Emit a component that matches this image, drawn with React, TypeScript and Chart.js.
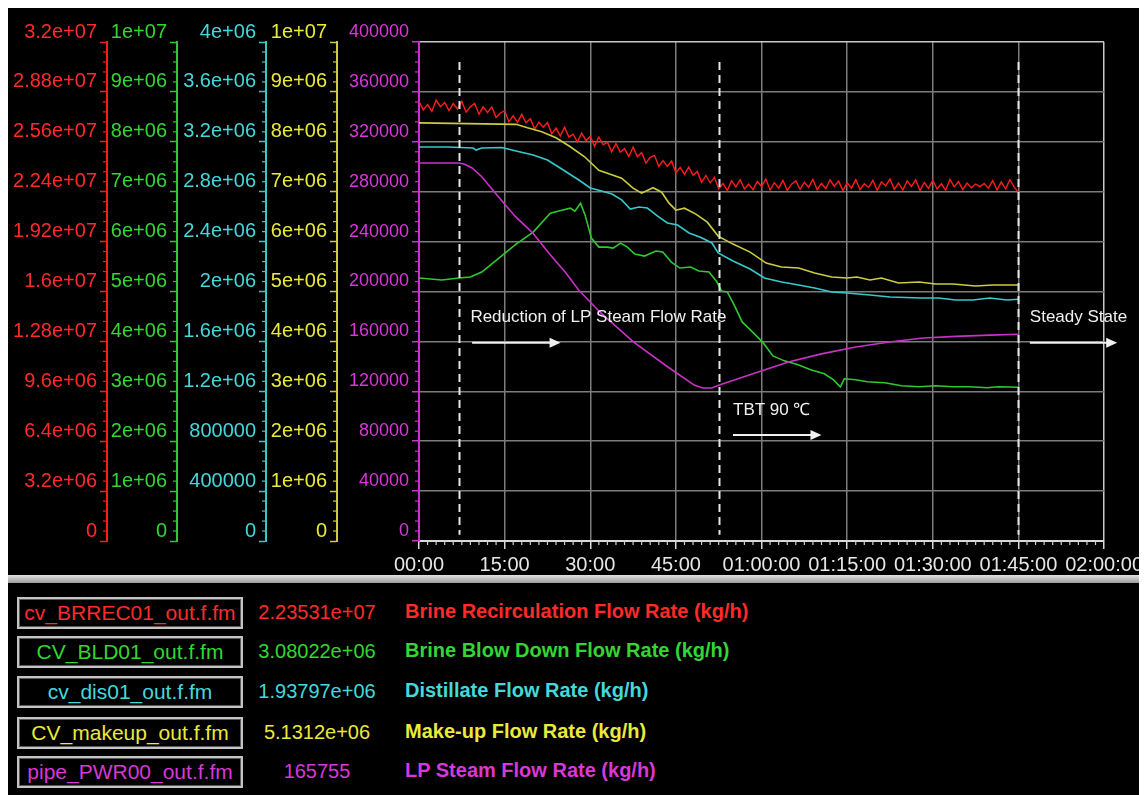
import React, { useEffect, useRef } from "react";
import { Chart, registerables } from "chart.js";

Chart.register(...registerables);

// ---------- axis tick labels ----------
const xTickValues = [0, 15, 30, 45, 60, 75, 90, 105, 120];
const xTickLabels = ["00:00", "15:00", "30:00", "45:00", "01:00:00", "01:15:00", "01:30:00", "01:45:00", "02:00:00"];

const redMax = 3.2e7;
const greenMax = 1e7;
const cyanMax = 4e6;
const yellowMax = 1e7;
const magentaMax = 400000;

const redTickLabels = ["0", "3.2e+06", "6.4e+06", "9.6e+06", "1.28e+07", "1.6e+07", "1.92e+07", "2.24e+07", "2.56e+07", "2.88e+07", "3.2e+07"];
const greenTickLabels = ["0", "1e+06", "2e+06", "3e+06", "4e+06", "5e+06", "6e+06", "7e+06", "8e+06", "9e+06", "1e+07"];
const cyanTickLabels = ["0", "400000", "800000", "1.2e+06", "1.6e+06", "2e+06", "2.4e+06", "2.8e+06", "3.2e+06", "3.6e+06", "4e+06"];
const yellowTickLabels = ["0", "1e+06", "2e+06", "3e+06", "4e+06", "5e+06", "6e+06", "7e+06", "8e+06", "9e+06", "1e+07"];
const magentaTickLabels = ["0", "40000", "80000", "120000", "160000", "200000", "240000", "280000", "320000", "360000", "400000"];

// ---------- series (time in minutes) ----------
const redTimes = [
  0, 0.75, 1.5, 2.25, 3, 3.75, 4.5, 5.25, 6, 6.75,
  7.5, 8.25, 9, 9.75, 10.5, 11.25, 12, 12.75, 13.5, 14.25,
  15, 15.75, 16.5, 17.25, 18, 18.75, 19.5, 20.25, 21, 21.75,
  22.5, 23.25, 24, 24.75, 25.5, 26.25, 27, 27.75, 28.5, 29.25,
  30, 30.75, 31.5, 32.25, 33, 33.75, 34.5, 35.25, 36, 36.75,
  37.5, 38.25, 39, 39.75, 40.5, 41.25, 42, 42.75, 43.5, 44.25,
  45, 45.75, 46.5, 47.25, 48, 48.75, 49.5, 50.25, 51, 51.75,
  52.5, 53.25, 54, 54.75, 55.5, 56.25, 57, 57.75, 58.5, 59.25,
  60, 60.75, 61.5, 62.25, 63, 63.75, 64.5, 65.25, 66, 66.75,
  67.5, 68.25, 69, 69.75, 70.5, 71.25, 72, 72.75, 73.5, 74.25,
  75, 75.75, 76.5, 77.25, 78, 78.75, 79.5, 80.25, 81, 81.75,
  82.5, 83.25, 84, 84.75, 85.5, 86.25, 87, 87.75, 88.5, 89.25,
  90, 90.75, 91.5, 92.25, 93, 93.75, 94.5, 95.25, 96, 96.75,
  97.5, 98.25, 99, 99.75, 100.5, 101.25, 102, 102.75, 103.5, 104.25,
  105,
];
const redValues = [
  28.20e6, 27.65e6, 28.00e6, 27.55e6, 28.28e6, 27.85e6, 28.12e6, 27.60e6, 28.05e6, 27.70e6,
  28.19e6, 27.50e6, 27.85e6, 28.06e6, 27.37e6, 27.84e6, 27.47e6, 27.84e6, 27.16e6, 27.45e6,
  27.59e6, 26.88e6, 27.27e6, 26.85e6, 27.36e6, 26.82e6, 27.08e6, 26.42e6, 26.86e6, 26.53e6,
  26.83e6, 26.11e6, 26.48e6, 25.98e6, 26.54e6, 25.90e6, 26.09e6, 25.58e6, 26.16e6, 25.67e6,
  25.96e6, 25.32e6, 25.91e6, 25.41e6, 25.58e6, 24.96e6, 25.49e6, 24.93e6, 25.16e6, 24.66e6,
  25.26e6, 24.64e6, 24.91e6, 24.24e6, 24.60e6, 24.73e6, 24.03e6, 24.39e6, 24.02e6, 24.37e6,
  23.62e6, 23.96e6, 23.51e6, 23.99e6, 23.46e6, 23.70e6, 23.00e6, 23.44e6, 22.97e6, 23.32e6,
  22.59e6, 22.93e6, 22.47e6, 23.11e6, 22.71e6, 23.17e6, 22.57e6, 22.89e6, 22.53e6, 23.05e6,
  22.73e6, 23.21e6, 22.51e6, 22.98e6, 22.63e6, 23.13e6, 22.48e6, 22.88e6, 23.09e6, 22.55e6,
  23.01e6, 22.69e6, 23.19e6, 22.53e6, 22.93e6, 22.59e6, 23.15e6, 22.75e6, 23.08e6, 22.47e6,
  22.97e6, 22.63e6, 23.17e6, 22.53e6, 22.91e6, 22.67e6, 23.13e6, 22.49e6, 23.03e6, 22.77e6,
  23.21e6, 22.55e6, 22.95e6, 22.51e6, 23.09e6, 22.73e6, 23.17e6, 22.47e6, 22.99e6, 22.61e6,
  23.13e6, 22.57e6, 22.91e6, 22.49e6, 23.19e6, 22.71e6, 23.05e6, 22.53e6, 22.95e6, 22.65e6,
  22.89e6, 22.73e6, 22.93e6, 22.63e6, 23.11e6, 22.51e6, 23.03e6, 22.57e6, 23.17e6, 22.69e6,
  22.3531e6,
];

const greenTimes = [0, 4, 7, 9, 11, 14, 17, 20, 23, 25, 26.5, 27.3, 28.3, 29.1, 30.2, 31.5, 33, 34, 35.3, 36.5, 37.8, 39.5, 41.5, 42.7, 44.2, 45.7, 47.6, 49, 50.8, 52.2, 53, 54, 55.2, 56.6, 58.4, 60.3, 62, 64, 66.4, 68.6, 71, 72.6, 73.8, 74.5, 76.5, 78.5, 81.6, 84.5, 87.6, 90.5, 93.5, 96.5, 99.5, 101.5, 105];
const greenValues = [5.27e6, 5.23e6, 5.27e6, 5.29e6, 5.39e6, 5.67e6, 5.95e6, 6.19e6, 6.57e6, 6.63e6, 6.67e6, 6.61e6, 6.77e6, 6.53e6, 6.07e6, 5.89e6, 5.89e6, 5.87e6, 5.97e6, 5.89e6, 5.75e6, 5.71e6, 5.81e6, 5.79e6, 5.59e6, 5.47e6, 5.49e6, 5.41e6, 5.39e6, 5.19e6, 5.01e6, 4.99e6, 4.73e6, 4.39e6, 4.19e6, 3.97e6, 3.71e6, 3.61e6, 3.53e6, 3.43e6, 3.35e6, 3.23e6, 3.09e6, 3.25e6, 3.23e6, 3.19e6, 3.17e6, 3.11e6, 3.09e6, 3.11e6, 3.09e6, 3.09e6, 3.07e6, 3.09e6, 3.08022e6];

const cyanTimes = [0, 5, 9.5, 10, 11, 14.5, 17, 20, 22.5, 25, 28, 30, 32, 33.8, 35.5, 37, 38.5, 40, 41.8, 43.5, 45.3, 47.3, 49.4, 51.3, 52.4, 55, 58, 60.5, 63.5, 66.5, 69.3, 72.3, 75, 77, 79, 82.5, 88, 91, 94, 97, 100, 103, 105];
const cyanValues = [3.158e6, 3.158e6, 3.150e6, 3.134e6, 3.150e6, 3.154e6, 3.126e6, 3.094e6, 3.054e6, 2.982e6, 2.894e6, 2.830e6, 2.806e6, 2.782e6, 2.734e6, 2.661e6, 2.677e6, 2.669e6, 2.605e6, 2.549e6, 2.533e6, 2.469e6, 2.433e6, 2.389e6, 2.309e6, 2.245e6, 2.180e6, 2.108e6, 2.076e6, 2.052e6, 2.028e6, 1.996e6, 1.988e6, 1.980e6, 1.972e6, 1.956e6, 1.948e6, 1.948e6, 1.932e6, 1.932e6, 1.948e6, 1.932e6, 1.93797e6];

const yellowTimes = [0, 17, 19, 21.5, 24, 26.5, 29, 31.5, 33.5, 35.5, 37.5, 39, 41, 42.5, 43.8, 45, 46.5, 48.5, 50.5, 52.4, 55, 58, 60.8, 63.5, 66.5, 69.3, 72.3, 75, 76.7, 79, 81, 84, 87.6, 90.5, 93.5, 97.5, 100.5, 103.5, 105];
const yellowValues = [8.38e6, 8.35e6, 8.28e6, 8.20e6, 8.08e6, 7.90e6, 7.70e6, 7.43e6, 7.35e6, 7.27e6, 7.07e6, 6.97e6, 7.08e6, 6.99e6, 6.77e6, 6.63e6, 6.67e6, 6.55e6, 6.39e6, 6.11e6, 5.95e6, 5.79e6, 5.57e6, 5.49e6, 5.47e6, 5.37e6, 5.29e6, 5.27e6, 5.29e6, 5.23e6, 5.27e6, 5.17e6, 5.19e6, 5.15e6, 5.15e6, 5.11e6, 5.13e6, 5.13e6, 5.1312e6];

const magentaTimes = [0, 7, 8, 9.3, 11, 13.9, 16.9, 19.9, 22.7, 25.7, 28, 31.8, 37.6, 43.6, 48.2, 49.7, 51.3, 52.6, 58.5, 64.7, 70.5, 76.5, 82.4, 88.3, 94, 100, 105];
const magentaValues = [303000, 303000, 302000, 299000, 292000, 276000, 260000, 247000, 231000, 215000, 201000, 183000, 159500, 139500, 125000, 122600, 122600, 125000, 134000, 143500, 150000, 155500, 159500, 162700, 164000, 165000, 165755];

// ---------- legend panel ----------
const tagNames = ["cv_BRREC01_out.f.fm", "CV_BLD01_out.f.fm", "cv_dis01_out.f.fm", "CV_makeup_out.f.fm", "pipe_PWR00_out.f.fm"];
const currentValues = ["2.23531e+07", "3.08022e+06", "1.93797e+06", "5.1312e+06", "165755"];
const descriptions = [
  "Brine Recirculation Flow Rate (kg/h)",
  "Brine Blow Down Flow Rate (kg/h)",
  "Distillate Flow Rate (kg/h)",
  "Make-up Flow Rate (kg/h)",
  "LP Steam Flow Rate (kg/h)",
];

// ---------- annotations (minutes, LP-steam axis units) ----------
const phaseTimes = [7, 52.5, 105];
const noteTexts = [
  { text: "Reduction of LP Steam Flow Rate", t: 9, v: 179000 },
  { text: "TBT 90 \u2103", t: 55, v: 105000 },
  { text: "Steady State", t: 107, v: 179000 },
];
const noteArrows = [
  { t0: 9.3, t1: 24.8, v: 159000 },
  { t0: 55, t1: 70.5, v: 85000 },
  { t0: 107, t1: 122.3, v: 159000 },
];

const FONT = '"Liberation Sans", Arial, sans-serif';
const lineColors = ["#ff1c1c", "#30c830", "#38c8cc", "#cccc40", "#c832c8"];
const textColors = ["#ff2a2a", "#33d633", "#44d8dc", "#eaea3a", "#d838d8"];
const axisIds = ["yR", "yG", "yC", "yY", "yM"];

function yAxis(max: number, labels: string[], color: string, tcolor: string, width: number, weight: number, fontSize: number, onArea: boolean) {
  return {
    type: "linear",
    position: "left",
    weight,
    min: 0,
    max,
    afterBuildTicks: (s: any) => {
      s.ticks = labels.map((_, i) => ({ value: (max * i) / (labels.length - 1) }));
    },
    afterFit: (s: any) => {
      s.width = width;
    },
    border: { display: true, color, width: 2 },
    grid: {
      display: true,
      drawOnChartArea: onArea,
      drawTicks: true,
      tickLength: 7,
      tickWidth: 1.5,
      tickColor: color,
      color: onArea ? (c: any) => (c.tick && c.tick.value >= max ? "#c8c8c8" : "#7c7c7c") : color,
      lineWidth: onArea ? 1.5 : 1,
    },
    ticks: {
      autoSkip: false,
      padding: 3,
      labelOffset: -10,
      color: tcolor,
      font: { family: FONT, size: fontSize },
      callback: (_v: any, i: number) => labels[i],
    },
  };
}

const overlayPlugin = {
  id: "overlay",
  afterDraw(chart: any) {
    const ctx = chart.ctx;
    const xs = chart.scales.x;
    const yM = chart.scales.yM;
    ctx.save();
    // minor ticks on y axes
    axisIds.forEach((id, k) => {
      const s = chart.scales[id];
      ctx.strokeStyle = lineColors[k];
      ctx.lineWidth = 1.2;
      for (let i = 0; i <= 50; i++) {
        if (i % 5 === 0) continue;
        const py = s.getPixelForValue(s.min + ((s.max - s.min) * i) / 50);
        ctx.beginPath();
        ctx.moveTo(s.right - 4, py);
        ctx.lineTo(s.right, py);
        ctx.stroke();
      }
    });
    // minor ticks on x axis
    ctx.strokeStyle = "#d0d0d0";
    ctx.lineWidth = 1.2;
    for (let i = 0; i <= 80; i++) {
      if (i % 10 === 0) continue;
      const px = xs.getPixelForValue((120 * i) / 80);
      ctx.beginPath();
      ctx.moveTo(px, xs.top);
      ctx.lineTo(px, xs.top + 4);
      ctx.stroke();
    }
    // dashed phase lines
    ctx.strokeStyle = "#e6e6e6";
    ctx.lineWidth = 2;
    ctx.setLineDash([8, 5]);
    phaseTimes.forEach((t) => {
      const px = Math.round(xs.getPixelForValue(t)) + 0.5;
      ctx.beginPath();
      ctx.moveTo(px, yM.getPixelForValue(384000));
      ctx.lineTo(px, yM.getPixelForValue(5000));
      ctx.stroke();
    });
    ctx.setLineDash([]);
    // notes
    ctx.fillStyle = "#f0f0f0";
    ctx.font = `17px ${FONT}`;
    ctx.textBaseline = "middle";
    ctx.textAlign = "left";
    noteTexts.forEach((n) => {
      ctx.fillText(n.text, xs.getPixelForValue(n.t), yM.getPixelForValue(n.v));
    });
    ctx.strokeStyle = "#f0f0f0";
    ctx.lineWidth = 2;
    noteArrows.forEach((a) => {
      const x0 = xs.getPixelForValue(a.t0);
      const x1 = xs.getPixelForValue(a.t1);
      const y = yM.getPixelForValue(a.v);
      ctx.beginPath();
      ctx.moveTo(x0, y);
      ctx.lineTo(x1 - 8, y);
      ctx.stroke();
      ctx.beginPath();
      ctx.moveTo(x1, y);
      ctx.lineTo(x1 - 11, y - 5);
      ctx.lineTo(x1 - 11, y + 5);
      ctx.closePath();
      ctx.fill();
    });
    ctx.restore();
  },
};

function series(times: number[], values: number[]) {
  return times.map((t, i) => ({ x: t, y: values[i] }));
}

export default function App() {
  const ref = useRef<HTMLCanvasElement>(null);

  useEffect(() => {
    const canvas = ref.current;
    if (!canvas) return;
    const ds = (label: string, times: number[], values: number[], k: number, width: number) => ({
      label,
      data: series(times, values),
      yAxisID: axisIds[k],
      borderColor: lineColors[k],
      borderWidth: width,
      pointRadius: 0,
      tension: 0,
      fill: false,
    });
    const chart = new Chart(canvas, {
      type: "line",
      data: {
        datasets: [
          ds(descriptions[4], magentaTimes, magentaValues, 4, 1.6),
          ds(descriptions[1], greenTimes, greenValues, 1, 1.6),
          ds(descriptions[2], cyanTimes, cyanValues, 2, 1.6),
          ds(descriptions[3], yellowTimes, yellowValues, 3, 1.6),
          ds(descriptions[0], redTimes, redValues, 0, 1.4),
        ] as any,
      },
      options: {
        responsive: false,
        animation: false,
        events: [],
        layout: { padding: { top: 34, right: 41, bottom: 0, left: 0 } },
        plugins: { legend: { display: false }, tooltip: { enabled: false } },
        scales: {
          x: {
            type: "linear",
            position: "bottom",
            min: 0,
            max: 120,
            afterBuildTicks: (s: any) => {
              s.ticks = xTickValues.map((v) => ({ value: v }));
            },
            border: { display: true, color: "#d8d8d8", width: 2 },
            grid: {
              display: true,
              drawOnChartArea: true,
              drawTicks: true,
              tickLength: 8,
              tickColor: "#d8d8d8",
              color: (c: any) => (c.tick && c.tick.value >= 120 ? "#c8c8c8" : "#7c7c7c"),
              lineWidth: 1.5,
            },
            ticks: {
              autoSkip: false,
              maxRotation: 0,
              minRotation: 0,
              padding: 4,
              color: "#e6e6e6",
              font: { family: FONT, size: 20 },
              callback: (_v: any, i: number) => xTickLabels[i],
            },
          },
          yR: yAxis(redMax, redTickLabels, lineColors[0], textColors[0], 99, 5, 20, false),
          yG: yAxis(greenMax, greenTickLabels, lineColors[1], textColors[1], 70, 4, 20, false),
          yC: yAxis(cyanMax, cyanTickLabels, lineColors[2], textColors[2], 89, 3, 20, false),
          yY: yAxis(yellowMax, yellowTickLabels, lineColors[3], textColors[3], 71, 2, 20, false),
          yM: yAxis(magentaMax, magentaTickLabels, lineColors[4], textColors[4], 82, 1, 18, true),
        } as any,
      },
      plugins: [overlayPlugin as any],
    });
    return () => chart.destroy();
  }, []);

  const boxTops = [589, 628, 668, 709, 748];

  return (
    <div
      style={{
        position: "relative",
        width: 1139,
        height: 787,
        background: "#000",
        overflow: "hidden",
        fontFamily: FONT,
      }}
    >
      <canvas
        ref={ref}
        width={1139}
        height={573}
        style={{ position: "absolute", left: 0, top: 0, display: "block", width: 1139, height: 573 }}
      />
      <div
        style={{
          position: "absolute",
          left: 0,
          top: 567,
          width: 1139,
          height: 8,
          background: "linear-gradient(#e2e2e2, #9c9c9c)",
        }}
      />
      {tagNames.map((name, i) => (
        <div key={name} style={{ position: "absolute", left: 0, top: boxTops[i], width: 1139, height: 32 }}>
          <div
            style={{
              position: "absolute",
              left: 9,
              top: 0,
              width: 226,
              height: 32,
              boxSizing: "border-box",
              border: "2px solid #c4c4c4",
              boxShadow: "inset 0 0 0 1px #5a5a5a",
              color: textColors[i],
              fontSize: 21,
              lineHeight: "28px",
              textAlign: "center",
              whiteSpace: "nowrap",
            }}
          >
            {name}
          </div>
          <div
            style={{
              position: "absolute",
              left: 249,
              top: 0,
              width: 120,
              height: 32,
              color: textColors[i],
              fontSize: 20,
              lineHeight: "30px",
              textAlign: "center",
              whiteSpace: "nowrap",
            }}
          >
            {currentValues[i]}
          </div>
          <div
            style={{
              position: "absolute",
              left: 397,
              top: 0,
              height: 32,
              color: textColors[i],
              fontSize: 20,
              fontWeight: "bold",
              lineHeight: "28px",
              whiteSpace: "nowrap",
            }}
          >
            {descriptions[i]}
          </div>
        </div>
      ))}
    </div>
  );
}
